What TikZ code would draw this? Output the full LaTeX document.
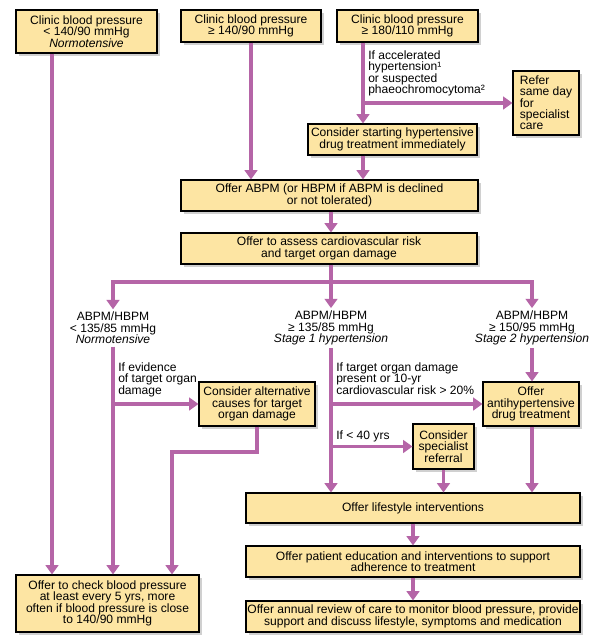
\documentclass[tikz,border=0pt]{standalone}
\usepackage{fontspec}
\setmainfont{Liberation Sans}
\usetikzlibrary{arrows.meta,shadows}
\definecolor{boxfill}{RGB}{253,229,163}
\definecolor{flow}{RGB}{181,101,167}
\begin{document}
\begin{tikzpicture}[x=0.75pt,y=-0.75pt,
  >={Triangle[width=9.5pt,length=7pt]},
  txt/.style={font=\fontsize{9.05}{8.5}\selectfont},
  box/.style={txt, draw=black, line width=0.8pt, fill=boxfill,
    drop shadow={shadow xshift=2pt, shadow yshift=-2pt, opacity=0.3, fill=black!60},
    align=center, inner sep=0pt},
  bx/.style 2 args={minimum width=#1*0.75pt, minimum height=#2*0.75pt},
  lab/.style={txt, align=center, inner sep=2pt},
  cond/.style={txt, align=left, inner sep=0pt, anchor=north west},
  line/.style={draw=flow, line width=2.3pt},
  arr/.style={line, ->},
]
\fill[white] (0,0) rectangle (605,637);
\useasboundingbox (0,0) rectangle (605,637);

% helper coordinates
\coordinate (x52) at (52,0);
\coordinate (x172) at (172,0);
\coordinate (x331) at (331,0);
\coordinate (x363) at (363,0);
\coordinate (x532) at (532,0);
\coordinate (y282) at (0,282);
\coordinate (y452) at (0,452);

% boxes
\node[box,bx={141}{43}] (b1) at (86.5,31.5) {Clinic blood pressure\\< 140/90 mmHg\\\textit{Normotensive}};
\node[box,bx={140}{32}] (b2) at (251,26) {Clinic blood pressure\\≥ 140/90 mmHg};
\node[box,bx={141}{32}] (b3) at (407.5,26) {Clinic blood pressure\\≥ 180/110 mmHg};
\node[box,bx={66}{64},align=left] (refer) at (546,103) {Refer\\same day\\for\\specialist\\care};
\node[box,bx={169}{31}] (cons) at (392.5,139.5) {Consider starting hypertensive\\drug treatment immediately};
\node[box,bx={297}{31}] (abpm) at (329.5,195.5) {Offer ABPM (or HBPM if ABPM is declined\\or not tolerated)};
\node[box,bx={296}{31}] (assess) at (329,248.5) {Offer to assess cardiovascular risk\\and target organ damage};

\node[lab] (l1) at (113,328) {ABPM/HBPM\\< 135/85 mmHg\\\textit{Normotensive}};
\node[lab] (l2) at (331,328) {ABPM/HBPM\\≥ 135/85 mmHg\\\textit{Stage 1 hypertension}};
\node[lab] (l3) at (532,328) {ABPM/HBPM\\≥ 150/95 mmHg\\\textit{Stage 2 hypertension}};

\node[box,bx={116}{44}] (alt) at (257,404) {Consider alternative\\causes for target\\organ damage};
\node[box,bx={96}{44}] (anti) at (531,404) {Offer\\antihypertensive\\drug treatment};
\node[box,bx={61}{45}] (ref2) at (443.5,446.5) {Consider\\specialist\\referral};
\node[box,bx={334}{30}] (life) at (413,508) {Offer lifestyle interventions};
\node[box,bx={334}{31}] (edu) at (413,561.5) {Offer patient education and interventions to support\\adherence to treatment};
\node[box,bx={334}{31}] (annual) at (413,616.5) {Offer annual review of care to monitor blood pressure, provide\\support and discuss lifestyle, symptoms and medication};
\node[box,bx={183}{57}] (check) at (107.5,603.5) {Offer to check blood pressure\\at least every 5 yrs, more\\often if blood pressure is close\\to 140/90 mmHg};

% condition labels
\node[cond] (c1) at (368,50.5) {If accelerated\\hypertension¹\\or suspected\\phaeochromocytoma²};
\node[cond] (c2) at (118,362.5) {If evidence\\of target organ\\damage};
\node[cond] (c3) at (336,362.5) {If target organ damage\\present or 10-yr\\cardiovascular risk > 20\%};
\node[cond] (c4) at (336,430.5) {If < 40 yrs};

% connectors
\draw[arr] (b1.south -| x52) -- (x52 |- check.north);
\draw[arr] (b2.south) -- (b2.south |- abpm.north);
\draw[arr] (b3.south -| x363) -- (x363 |- cons.north);
\draw[arr] (x363 |- refer.west) -- (refer.west);
\draw[arr] (cons.south -| x363) -- (x363 |- abpm.north);
\draw[arr] (abpm.south -| x331) -- (x331 |- assess.north);
\draw[line] (assess.south -| x331) -- (x331 |- y282);
\draw[line,<->] (l1.north) -- (l1.north |- y282) -- (x532 |- y282) -- (l3.north);
\draw[arr] (x331 |- y282) -- (l2.north);

\draw[arr] (l1.south) -- (l1.south |- check.north);
\draw[arr] (l1.south |- alt.west) -- (alt.west);
\draw[arr] (alt.south) -- (alt.south |- y452) -- (x172 |- y452) -- (x172 |- check.north);

\draw[arr] (l2.south) -- (l2.south |- life.north);
\draw[arr] (l2.south |- anti.west) -- (anti.west);
\draw[arr] (l2.south |- ref2.west) -- (ref2.west);

\draw[arr] (l3.south) -- (l3.south |- anti.north);
\draw[arr] (anti.south -| x532) -- (x532 |- life.north);
\draw[arr] (ref2.south) -- (ref2.south |- life.north);
\draw[arr] (life.south) -- (edu.north);
\draw[arr] (edu.south) -- (annual.north);
\end{tikzpicture}
\end{document}
